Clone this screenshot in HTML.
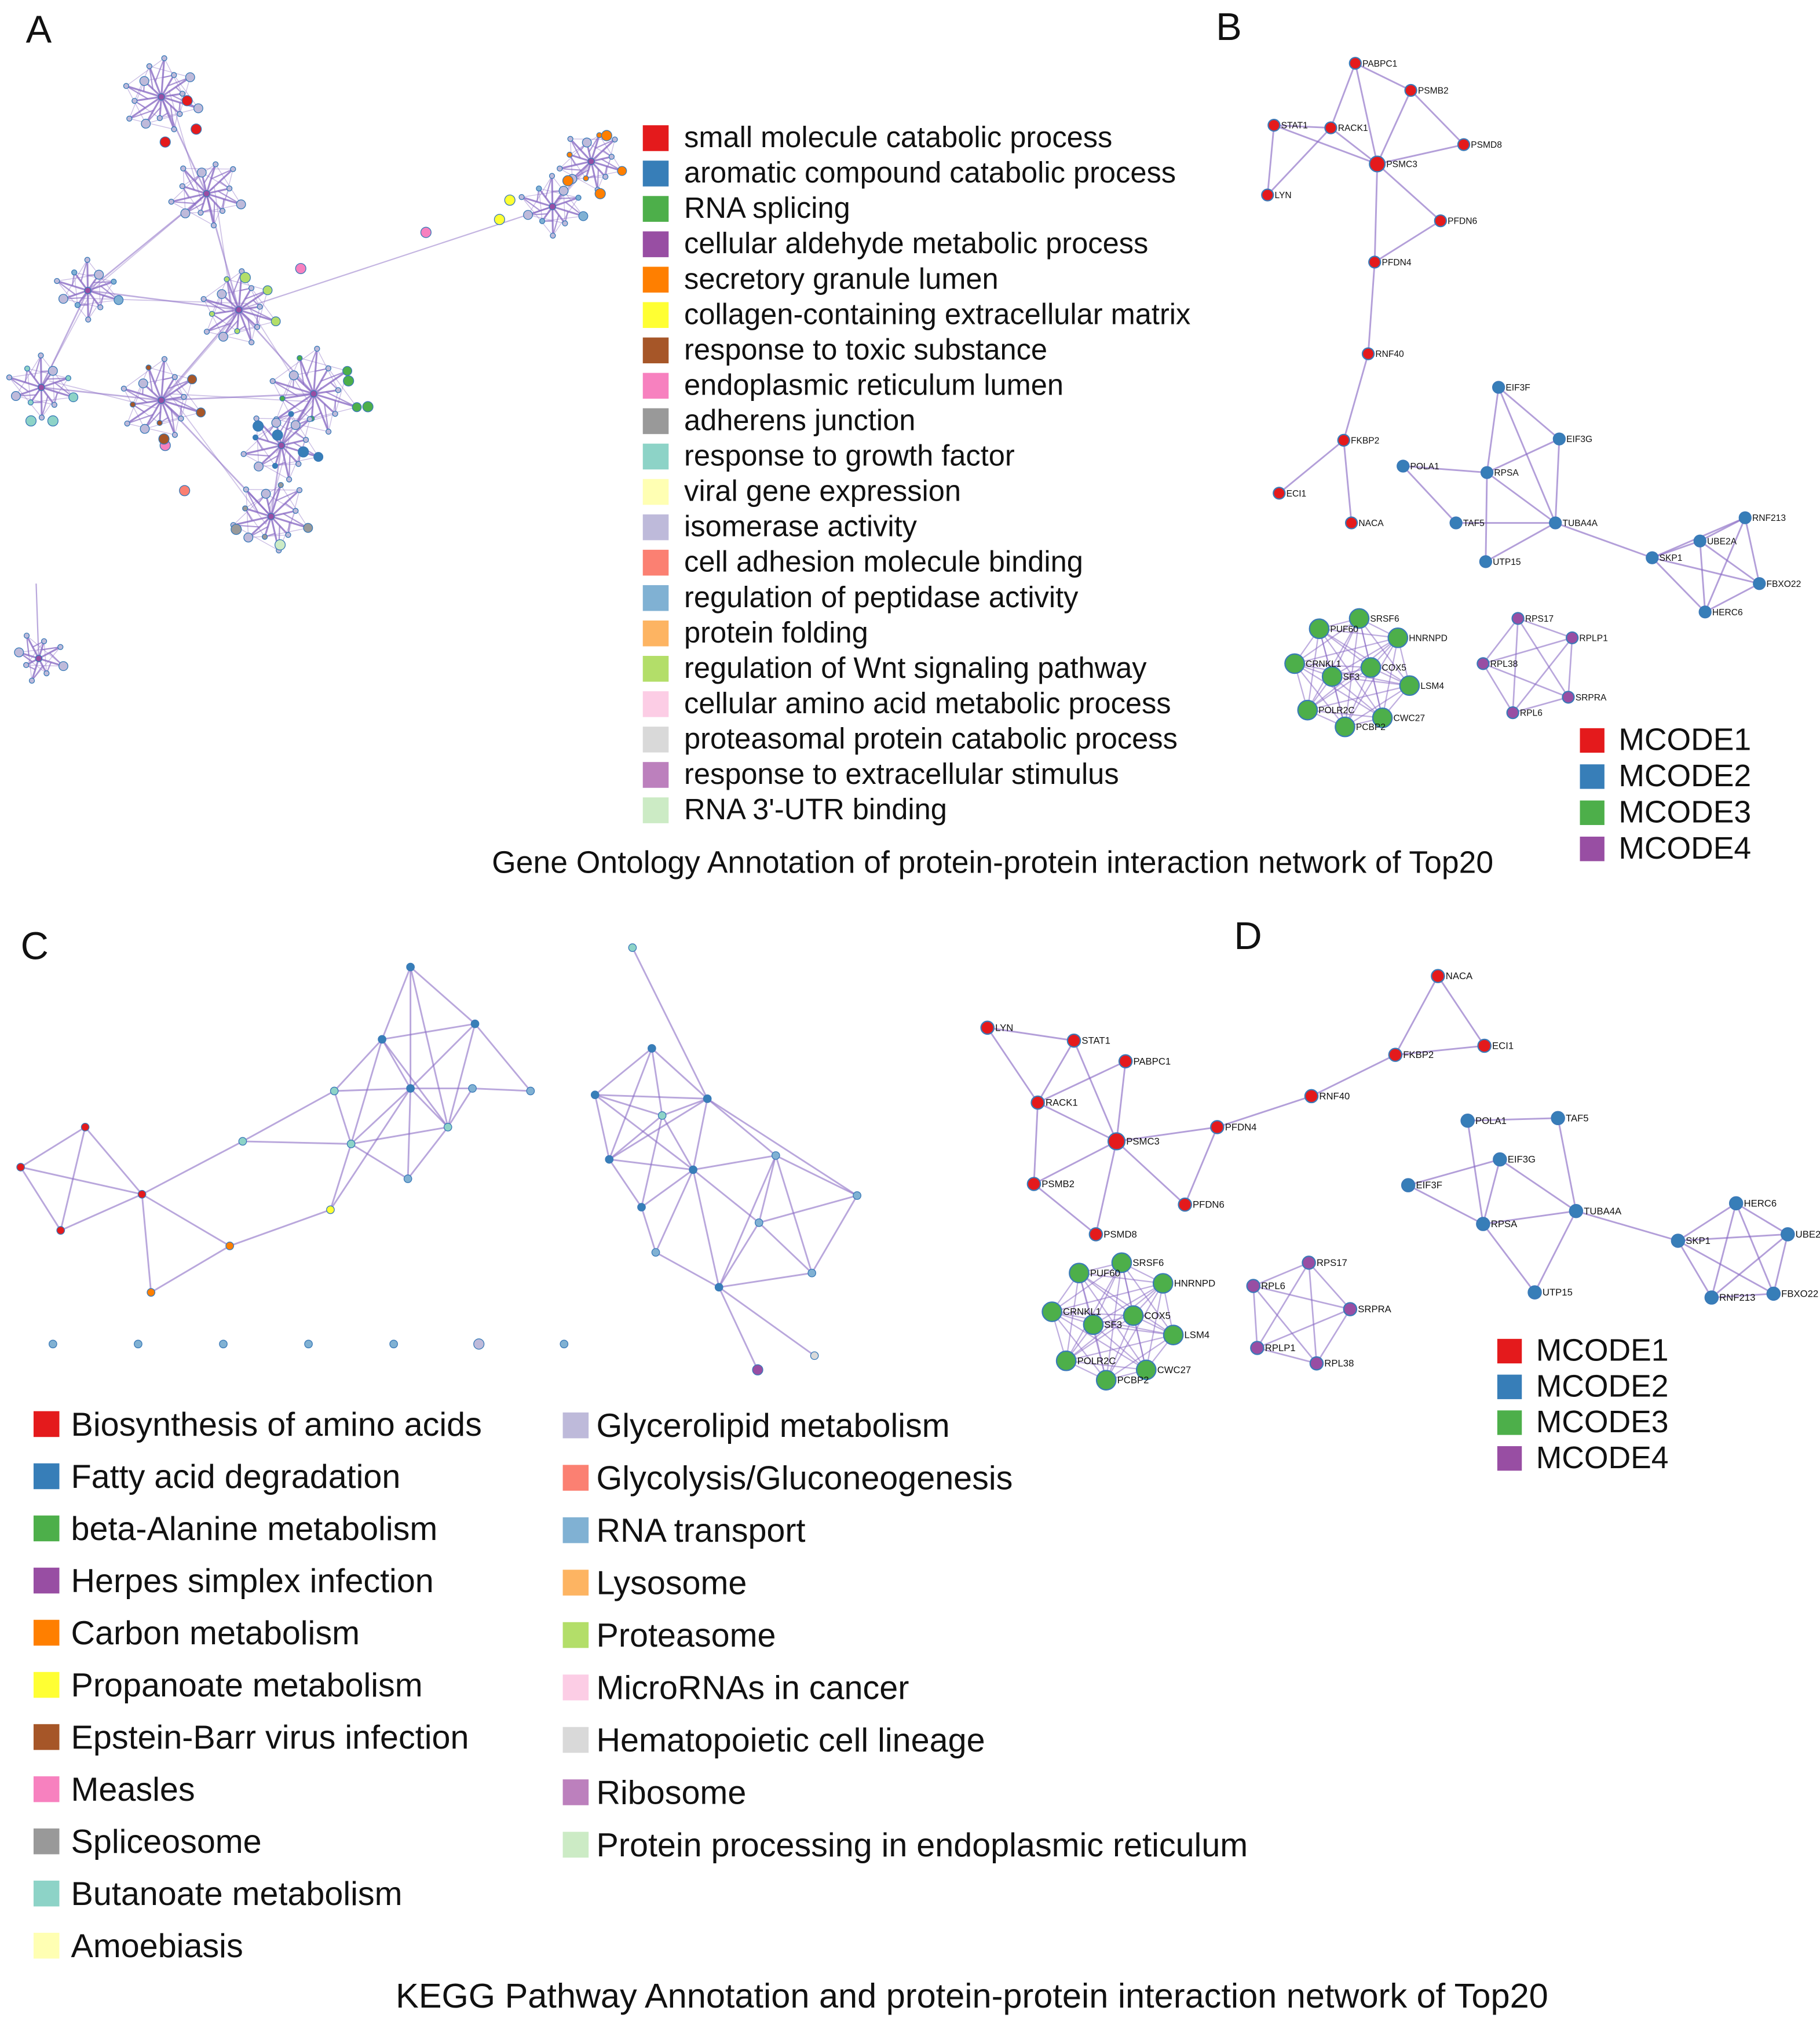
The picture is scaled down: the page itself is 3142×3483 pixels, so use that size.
<!DOCTYPE html>
<html><head><meta charset="utf-8"><style>
html,body{margin:0;padding:0;background:#fff}
svg{display:block}
text{font-family:"Liberation Sans",sans-serif;fill:#111}
</style></head><body>
<svg id="fig" width="3142" height="3483" viewBox="0 0 1410 1563" xmlns="http://www.w3.org/2000/svg">
<rect width="1410" height="1563" fill="#fff"/>
<g id="edges"></g><g id="nodes"></g><g id="labels"></g>
<text x="20" y="33" font-size="30">A</text>
<text x="942" y="31" font-size="30">B</text>
<text x="16" y="743" font-size="30">C</text>
<text x="956" y="735" font-size="30">D</text>
<text x="769" y="676" font-size="24" text-anchor="middle">Gene Ontology Annotation of protein-protein interaction network of Top20</text>
<text x="753" y="1555" font-size="26.7" text-anchor="middle">KEGG Pathway Annotation and protein-protein interaction network of Top20</text>
</svg>
<script>
const palette=["#e41a1c","#377eb8","#4daf4a","#984ea3","#ff7f00","#ffff33","#a65628","#f781bf","#999999","#8dd3c7","#ffffb3","#bebada","#fb8072","#80b1d3","#fdb462","#b3de69","#fccde5","#d9d9d9","#bc80bd","#ccebc5"];
const goTerms=["small molecule catabolic process","aromatic compound catabolic process","RNA splicing","cellular aldehyde metabolic process","secretory granule lumen","collagen-containing extracellular matrix","response to toxic substance","endoplasmic reticulum lumen","adherens junction","response to growth factor","viral gene expression","isomerase activity","cell adhesion molecule binding","regulation of peptidase activity","protein folding","regulation of Wnt signaling pathway","cellular amino acid metabolic process","proteasomal protein catabolic process","response to extracellular stimulus","RNA 3'-UTR binding"];
const keggLeft=["Biosynthesis of amino acids","Fatty acid degradation","beta-Alanine metabolism","Herpes simplex infection","Carbon metabolism","Propanoate metabolism","Epstein-Barr virus infection","Measles","Spliceosome","Butanoate metabolism","Amoebiasis"];
const keggRight=["Glycerolipid metabolism","Glycolysis/Gluconeogenesis","RNA transport","Lysosome","Proteasome","MicroRNAs in cancer","Hematopoietic cell lineage","Ribosome","Protein processing in endoplasmic reticulum"];
const mcodeNames=["MCODE1","MCODE2","MCODE3","MCODE4"];
const mcodeCols=["#e41a1c","#377eb8","#4daf4a","#984ea3"];
const bNodes=[["PABPC1",1050,49,0],["PSMB2",1093,70,0],["STAT1",987,97,0],["RACK1",1031,99,0],["PSMC3",1067,127,0],["PSMD8",1134,112,0],["LYN",982,151,0],["PFDN6",1116,171,0],["PFDN4",1065,203,0],["RNF40",1060,274,0],["FKBP2",1041,341,0],["ECI1",991,382,0],["NACA",1047,405,0],
["EIF3F",1161,300,1],["EIF3G",1208,340,1],["POLA1",1087,361,1],["RPSA",1152,366,1],["TAF5",1128,405,1],["TUBA4A",1205,405,1],["UTP15",1151,435,1],["SKP1",1280,432,1],["UBE2A",1317,419,1],["RNF213",1352,401,1],["FBXO22",1363,452,1],["HERC6",1321,474,1],
["SRSF6",1053,479,2],["PUF60",1022,487,2],["HNRNPD",1083,494,2],["CRNKL1",1003,514,2],["SF3",1032,524,2],["COX5",1062,517,2],["LSM4",1092,531,2],["POLR2C",1013,550,2],["PCBP2",1042,563,2],["CWC27",1071,556,2],
["RPS17",1176,479,3],["RPLP1",1218,494,3],["RPL38",1149,514,3],["SRPRA",1215,540,3],["RPL6",1172,552,3]];
const bEdges=[["PABPC1","PSMB2"],["PABPC1","RACK1"],["PABPC1","PSMC3"],["PSMB2","PSMC3"],["STAT1","RACK1"],["STAT1","PSMC3"],["STAT1","LYN"],["RACK1","PSMC3"],["PSMC3","PSMD8"],["PSMB2","PSMD8"],["PSMC3","PFDN6"],["PSMC3","PFDN4"],["PFDN6","PFDN4"],["LYN","RACK1"],["PFDN4","RNF40"],["RNF40","FKBP2"],["FKBP2","ECI1"],["FKBP2","NACA"],
["EIF3F","EIF3G"],["EIF3F","RPSA"],["EIF3G","RPSA"],["EIF3G","TUBA4A"],["POLA1","RPSA"],["POLA1","TAF5"],["RPSA","TUBA4A"],["TAF5","TUBA4A"],["RPSA","UTP15"],["TUBA4A","UTP15"],["EIF3F","TUBA4A"],["TUBA4A","SKP1"],["SKP1","UBE2A"],["SKP1","RNF213"],["SKP1","FBXO22"],["SKP1","HERC6"],["UBE2A","RNF213"],["UBE2A","FBXO22"],["UBE2A","HERC6"],["RNF213","FBXO22"],["RNF213","HERC6"],["FBXO22","HERC6"]];
const dNodes=[["LYN",765,796,0],["STAT1",832,806,0],["PABPC1",872,822,0],["RACK1",804,854,0],["PSMC3",865,884,0],["PSMB2",801,917,0],["PSMD8",849,956,0],["PFDN6",918,933,0],["PFDN4",943,873,0],["RNF40",1016,849,0],["FKBP2",1081,817,0],["NACA",1114,756,0],["ECI1",1150,810,0],
["POLA1",1137,868,1],["TAF5",1207,866,1],["EIF3G",1162,898,1],["EIF3F",1091,918,1],["RPSA",1149,948,1],["TUBA4A",1221,938,1],["UTP15",1189,1001,1],["SKP1",1300,961,1],["HERC6",1345,932,1],["UBE2A",1385,956,1],["RNF213",1326,1005,1],["FBXO22",1374,1002,1],
["SRSF6",869,978,2],["PUF60",836,986,2],["HNRNPD",901,994,2],["CRNKL1",815,1016,2],["SF3",847,1026,2],["COX5",878,1019,2],["LSM4",909,1034,2],["POLR2C",826,1054,2],["PCBP2",857,1069,2],["CWC27",888,1061,2],
["RPS17",1014,978,3],["RPL6",971,996,3],["SRPRA",1046,1014,3],["RPLP1",974,1044,3],["RPL38",1020,1056,3]];
const dEdges=[["LYN","STAT1"],["LYN","RACK1"],["STAT1","RACK1"],["STAT1","PSMC3"],["PABPC1","RACK1"],["PABPC1","PSMC3"],["RACK1","PSMC3"],["RACK1","PSMB2"],["PSMC3","PSMB2"],["PSMC3","PSMD8"],["PSMB2","PSMD8"],["PSMC3","PFDN6"],["PSMC3","PFDN4"],["PFDN4","PFDN6"],["PFDN4","RNF40"],["RNF40","FKBP2"],["FKBP2","NACA"],["FKBP2","ECI1"],["NACA","ECI1"],
["POLA1","TAF5"],["POLA1","RPSA"],["TAF5","TUBA4A"],["EIF3G","RPSA"],["EIF3G","TUBA4A"],["EIF3F","RPSA"],["EIF3F","EIF3G"],["RPSA","TUBA4A"],["RPSA","UTP15"],["TUBA4A","UTP15"],["TUBA4A","SKP1"],["SKP1","HERC6"],["SKP1","UBE2A"],["SKP1","RNF213"],["SKP1","FBXO22"],["HERC6","UBE2A"],["HERC6","RNF213"],["HERC6","FBXO22"],["UBE2A","RNF213"],["UBE2A","FBXO22"],["RNF213","FBXO22"]];
const cNodes=[[16,904,0],[66,873,0],[47,953,0],[110,925,0],[117,1001,4],[178,965,4],[188,884,9],[256,937,5],[259,845,9],[272,886,9],[296,805,1],[318,749,1],[368,793,1],[318,843,1],[347,873,9],[366,843,13],[316,913,13],[411,845,13],
[490,734,9],[505,812,1],[461,848,1],[548,851,1],[513,864,9],[472,898,1],[537,906,1],[497,935,1],[508,970,13],[557,997,1],[588,947,13],[601,895,13],[664,926,13],[629,986,13],[587,1061,3],[631,1050,17],
[41,1041,13],[107,1041,13],[173,1041,13],[239,1041,13],[305,1041,13],[371,1041,11],[437,1041,13]];
const cEdges=[[0,1],[0,2],[0,3],[1,2],[1,3],[2,3],[3,4],[3,5],[3,6],[4,5],[5,7],[6,8],[6,9],[8,9],[8,10],[8,13],[9,10],[9,13],[9,14],[9,16],[10,11],[10,12],[10,13],[10,14],[11,12],[11,13],[11,14],[12,13],[12,14],[12,17],[13,14],[13,15],[13,16],[14,15],[14,16],[15,17],[7,9],[7,13],
[18,21],[19,20],[19,21],[19,22],[19,23],[20,21],[20,22],[20,23],[20,24],[21,22],[21,23],[21,24],[21,29],[22,23],[22,24],[22,25],[23,24],[23,25],[24,25],[24,26],[24,27],[24,28],[25,26],[26,27],[27,28],[27,32],[27,33],[28,29],[28,30],[28,31],[29,30],[29,31],[30,31],[24,29],[27,31],[29,27],[21,30]];
const aClusters=[[125,75,30,14,11],[160,150,28,12,11],[185,240,30,14,15],[68,225,25,10,13],[32,300,26,10,9],[125,310,32,14,6],[243,305,35,14,2],[218,345,30,12,1],[210,400,30,12,8],[458,125,25,12,4],[428,160,25,10,13],[30,510,20,8,11]];
const aLinks=[[0,1],[1,2],[2,3],[3,4],[4,5],[5,6],[6,7],[7,8],[5,8],[2,6],[2,5],[9,10],[1,3]];
const aExtraNodes=[[152,100,0],[145,78,0],[128,110,0],[24,326,9],[41,326,9],[270,295,2],[285,315,2],[200,330,1],[215,337,1],[235,350,1],[395,155,5],[387,170,5],[330,180,7],[233,208,7],[143,380,12],[128,345,7],[183,410,8],[217,422,19],[190,215,15],[127,340,6],[470,105,4],[440,140,4],[465,150,4]];
const svgNS="http://www.w3.org/2000/svg";
const E=document.getElementById('edges'),N=document.getElementById('nodes'),L=document.getElementById('labels');
function line(x1,y1,x2,y2,w,op){const l=document.createElementNS(svgNS,'line');l.setAttribute('x1',x1);l.setAttribute('y1',y1);l.setAttribute('x2',x2);l.setAttribute('y2',y2);l.setAttribute('stroke','#8a6cc4');l.setAttribute('stroke-width',w);l.setAttribute('stroke-opacity',op);


E.appendChild(l);}
function circ(x,y,r,fill){const c=document.createElementNS(svgNS,'circle');c.setAttribute('cx',x);c.setAttribute('cy',y);c.setAttribute('r',r);c.setAttribute('fill',fill);c.setAttribute('stroke','#3a7ab8');c.setAttribute('stroke-width',r>4?1:0.6);


N.appendChild(c);}
function txt(x,y,s,size,name){const t=document.createElementNS(svgNS,'text');t.setAttribute('x',x);t.setAttribute('y',y);t.setAttribute('font-size',size);t.textContent=s;


L.appendChild(t);}
function rect(x,y,w,h,fill,name){const r=document.createElementNS(svgNS,'rect');r.setAttribute('x',x);r.setAttribute('y',y);r.setAttribute('width',w);r.setAttribute('height',h);r.setAttribute('fill',fill);


L.appendChild(r);}
const rf=[1,0.65,0.9,0.55,0.8,1,0.7,0.95,0.6,0.85];
aLinks.forEach(([a,b])=>{const A=aClusters[a],B=aClusters[b];line(A[0],A[1],B[0],B[1],1.2,0.55);line(A[0]+6,A[1]-5,B[0]-4,B[1]+6,0.8,0.4);});
line(aClusters[2][0],aClusters[2][1],aClusters[10][0],aClusters[10][1],1,0.5);
line(28,452,30,510,1,0.6);
aClusters.forEach(([cx,cy,r,n,ci])=>{const pts=[];for(let i=0;i<n;i++){const a=i*2*Math.PI/n+0.3;const rr=r*rf[i%rf.length];pts.push([cx+rr*Math.cos(a),cy+rr*Math.sin(a)]);}
pts.forEach((p,i)=>{line(cx,cy,p[0],p[1],1.4,0.8);line(p[0],p[1],pts[(i+3)%n][0],pts[(i+3)%n][1],0.6,0.45);line((cx+p[0])/2,(cy+p[1])/2,pts[(i+1)%n][0],pts[(i+1)%n][1],1,0.7);});
pts.forEach((p,i)=>circ(p[0],p[1],i%4==0?3.5:2,palette[i%3==0?ci:11]));circ(cx,cy,2.5,palette[3]);});
aExtraNodes.forEach(([x,y,ci])=>circ(x,y,4,palette[ci]));
goTerms.forEach((s,i)=>{const y=106+i*27.4;rect(498,y-9,20,20,palette[i],'go-legend-swatch');txt(530,y+8,s,22.7,'go-legend-entry');});
function drawNet(nodes,edges,r,greenR,fs,prefix){const m={};nodes.forEach(n=>m[n[0]]=n);
edges.forEach(([a,b])=>line(m[a][1],m[a][2],m[b][1],m[b][2],1.3,0.65));
const g=nodes.filter(n=>n[3]==2);g.forEach((a,i)=>g.forEach((b,j)=>{if(j>i)line(a[1],a[2],b[1],b[2],1,0.55);}));
const p=nodes.filter(n=>n[3]==3);p.forEach((a,i)=>p.forEach((b,j)=>{if(j>i)line(a[1],a[2],b[1],b[2],1.2,0.6);}));
nodes.forEach(n=>{const rr=n[3]==2?greenR:(n[0]=='PSMC3'?r+1.5:r);circ(n[1],n[2],rr,mcodeCols[n[3]]);txt(n[1]+rr+1,n[2]+2.5,n[0],fs,prefix+'-node-label');});}
drawNet(bNodes,bEdges,4.5,7.5,7,'panel-b');
drawNet(dNodes,dEdges,5,7.5,7.5,'panel-d');
mcodeNames.forEach((s,i)=>{rect(1224,564+i*28,19,19,mcodeCols[i],'mcode-legend-swatch-b');txt(1254,581+i*28,s,24,'mcode-legend-entry-b');
rect(1160,1037+i*27.7,19,19,mcodeCols[i],'mcode-legend-swatch-d');txt(1190,1054+i*27.7,s,24,'mcode-legend-entry-d');});
cEdges.forEach(([a,b])=>line(cNodes[a][0],cNodes[a][1],cNodes[b][0],cNodes[b][1],1.3,0.6));
cNodes.forEach(([x,y,ci])=>circ(x,y,ci==3||ci==11?4:3,palette[ci]));
keggLeft.forEach((s,i)=>{const y=1103+i*40.4;rect(26,y-10,20,20,palette[i],'kegg-legend-swatch');txt(55,y+9,s,25.8,'kegg-legend-entry');});
keggRight.forEach((s,i)=>{const y=1104+i*40.6;rect(436,y-10,20,20,palette[11+i],'kegg-legend-swatch');txt(462,y+9,s,25.8,'kegg-legend-entry');});
</script>
</body></html>
